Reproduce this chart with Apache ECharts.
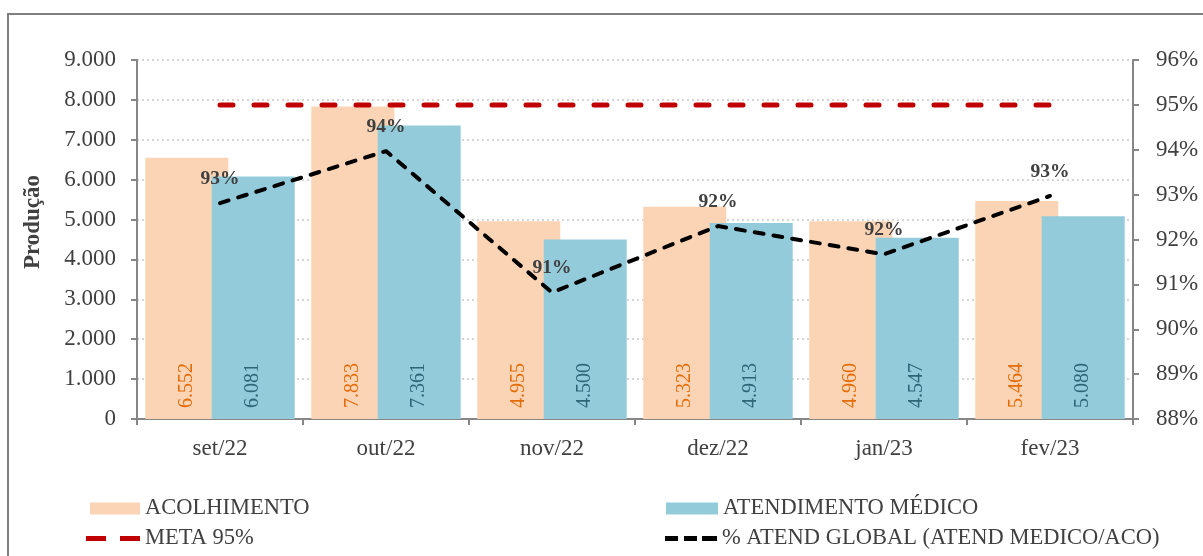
<!DOCTYPE html>
<html>
<head>
<meta charset="utf-8">
<script src="https://cdn.jsdelivr.net/npm/echarts@6/dist/echarts.min.js"></script>
<style>
  html, body { margin: 0; padding: 0; background: #fff; }
  #chart { width: 1203px; height: 556px; }
</style>
</head>
<body>
<div id="chart"></div>
<script>
const months = ['set/22', 'out/22', 'nov/22', 'dez/22', 'jan/23', 'fev/23']
const acolhimento = [6552, 7833, 4955, 5323, 4960, 5464]
const atendMedico = [6081, 7361, 4500, 4913, 4547, 5080]
const pctGlobal = [92.81, 93.97, 90.82, 92.30, 91.67, 92.97]
const meta = [95, 95, 95, 95, 95, 95]

const FONT = '"Liberation Serif", "Times New Roman", serif'
const TEXT = '#404040'
const AXIS = '#868686'

// 6552 -> "6.552"
const fmtThousands = (v) => String(v).replace(/\B(?=(\d{3})+(?!\d))/g, '.')

// one legend per item so each icon can get its own size
const legendText = { fontFamily: FONT, fontSize: 22.5, lineHeight: 22, color: TEXT }
const legendItem = (name, left, top, w, h, icon) => ({
  left, top, padding: 0, itemWidth: w, itemHeight: h, icon,
  textStyle: legendText, data: [name],
})

const chart = echarts.init(document.getElementById('chart'))

chart.setOption({
  backgroundColor: '#fff',
  animation: false,
  textStyle: { fontFamily: FONT, color: TEXT },
  graphic: [
    {
      type: 'rect',
      shape: { x: 8, y: 14, width: 1300, height: 700 },
      style: { fill: 'none', stroke: '#7f7f7f', lineWidth: 2 },
      silent: true,
    },
    {
      type: 'text', x: 33.5, y: 222, rotation: Math.PI / 2,
      style: {
        text: 'Produção', fontFamily: FONT, fontSize: 23, fontWeight: 'bold', fill: TEXT,
        align: 'center', verticalAlign: 'middle',
      },
    },
  ],
  grid: { left: 137, right: 70, top: 60, bottom: 137 },
  legend: [
    legendItem('ACOLHIMENTO', 90, 497, 50, 12, 'rect'),
    legendItem('META 95%', 86, 527, 54, 5, 'path://M0,0h20v5h-20z M34,0h20v5h-20z'),
    legendItem('ATENDIMENTO MÉDICO', 666, 497, 52, 12, 'rect'),
    legendItem('% ATEND GLOBAL (ATEND MEDICO/ACO)', 665, 527, 52, 5,
      'path://M0,0h13v5h-13z M19,0h13v5h-13z M37,0h15v5h-15z'),
  ],
  xAxis: {
    type: 'category',
    data: months,
    axisLine: { lineStyle: { color: AXIS, width: 2 } },
    axisTick: { show: true, length: 6, lineStyle: { color: AXIS, width: 2 } },
    axisLabel: { fontFamily: FONT, fontSize: 23, color: TEXT, margin: 18 },
  },
  yAxis: [
    {
      type: 'value', min: 0, max: 9000, interval: 1000,
      axisLine: { show: true, lineStyle: { color: AXIS, width: 2 } },
      axisTick: { show: true, length: 6, lineStyle: { color: AXIS, width: 2 } },
      axisLabel: { fontFamily: FONT, fontSize: 23, color: TEXT, margin: 21, formatter: fmtThousands },
      splitLine: { show: true, lineStyle: { color: '#c8c8c8', type: [2, 3], width: 1.5 } },
    },
    {
      type: 'value', min: 88, max: 96, interval: 1, position: 'right',
      axisLine: { show: true, lineStyle: { color: AXIS, width: 2 } },
      axisTick: { show: true, length: 6, lineStyle: { color: AXIS, width: 2 } },
      axisLabel: { fontFamily: FONT, fontSize: 23, color: TEXT, margin: 23, formatter: (v) => v + '%' },
      splitLine: { show: false },
    },
  ],
  series: [
    {
      name: 'ACOLHIMENTO', type: 'bar', data: acolhimento,
      barWidth: 83, barGap: '-20%',
      itemStyle: { color: '#fad4b4' },
      label: {
        show: true, position: 'insideBottom', rotate: 90, align: 'left', verticalAlign: 'middle',
        distance: 11, fontFamily: FONT, fontSize: 20, color: '#e46c0a', formatter: (p) => fmtThousands(p.value),
      },
    },
    {
      name: 'ATENDIMENTO MÉDICO', type: 'bar', data: atendMedico,
      barWidth: 83,
      itemStyle: { color: '#93cbdb' },
      label: {
        show: true, position: 'insideBottom', rotate: 90, align: 'left', verticalAlign: 'middle',
        distance: 11, fontFamily: FONT, fontSize: 20, color: '#2f6577', formatter: (p) => fmtThousands(p.value),
      },
    },
    {
      name: 'META 95%', type: 'line', yAxisIndex: 1, data: meta,
      symbol: 'none',
      lineStyle: { color: '#c00000', width: 5, type: [13, 21], cap: 'round' },
      itemStyle: { color: '#c00000' },
    },
    {
      name: '% ATEND GLOBAL (ATEND MEDICO/ACO)', type: 'line', yAxisIndex: 1, data: pctGlobal,
      symbol: 'circle', symbolSize: 0, showSymbol: true,
      lineStyle: { color: '#000', width: 4, type: [9, 10], cap: 'round' },
      itemStyle: { color: '#000' },
      label: {
        show: true, position: 'top', distance: 14,
        fontFamily: FONT, fontSize: 19.5, fontWeight: 'bold', color: TEXT,
        formatter: (p) => Math.round(p.value) + '%',
      },
    },
  ],
})
</script>
</body>
</html>
